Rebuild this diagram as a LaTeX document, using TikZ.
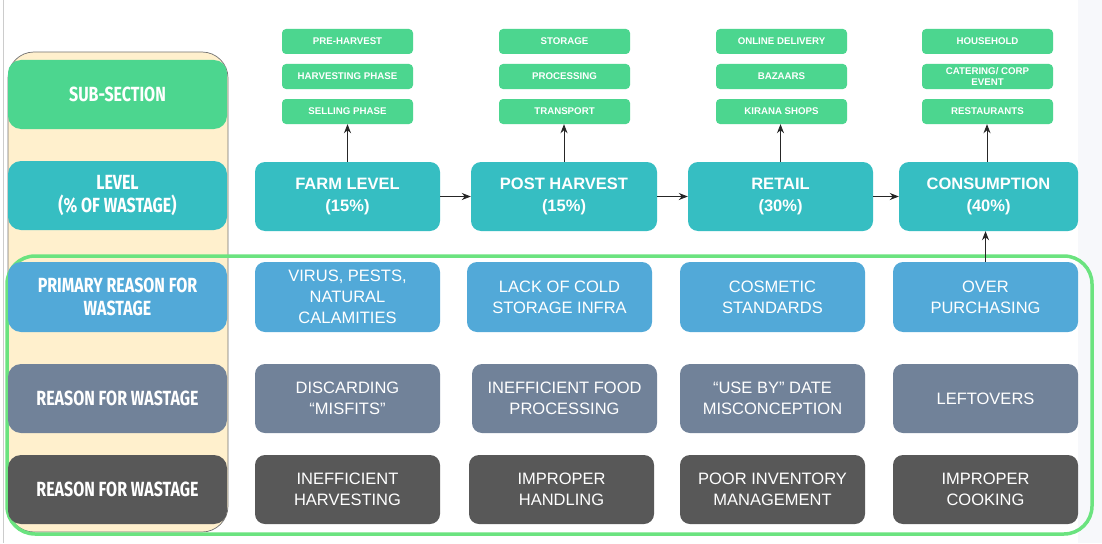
\documentclass[tikz,border=0pt]{standalone}
\usepackage{fontspec}
\setmainfont{Liberation Sans}
\newfontfamily\condfont[FakeStretch=0.78]{Fira Sans}
\usetikzlibrary{arrows.meta}
\definecolor{cgreen}{HTML}{4CD68F}
\definecolor{cteal}{HTML}{36BEC2}
\definecolor{cblue}{HTML}{52A9D8}
\definecolor{cslate}{HTML}{718299}
\definecolor{cdark}{HTML}{585858}
\definecolor{cbeige}{HTML}{FFF0CD}
\definecolor{cframe}{HTML}{6BE37F}
\definecolor{cstrip}{HTML}{F7F8FB}
\tikzset{
  box/.style={rectangle, rounded corners=10pt, text=white, align=center, inner sep=0pt},
  leftlbl/.style={box, rounded corners=13pt, minimum width=219pt, minimum height=69pt,
    font=\condfont\bfseries\fontsize{20.5}{22.5}\selectfont},
  lvlbox/.style={box, fill=cteal, minimum height=69pt, font=\bfseries\fontsize{16.5}{22}\selectfont},
  rowbox/.style={box, minimum width=185pt, minimum height=70pt, font=\fontsize{16.5}{21}\selectfont},
  pbox/.style={rowbox, fill=cblue},
  gbox/.style={rowbox, fill=cslate},
  dbox/.style={rowbox, fill=cdark},
  subbox/.style={box, fill=cgreen, rounded corners=4pt, minimum width=131pt, minimum height=25pt,
    font=\bfseries\fontsize{9.7}{11.5}\selectfont},
  arr/.style={draw=black!85, line width=0.9pt, -{Stealth[length=9pt,width=7pt]}}
}
\begin{document}
\begin{tikzpicture}[x=1pt,y=-1pt]
\useasboundingbox (0,0) rectangle (1102,543);
\fill[white] (0,0) rectangle (1102,543);
\fill[cstrip] (1078,0) rectangle (1102,543);
\draw[black!20, line width=0.8pt] (3,0) -- (3,543);
% beige column
\draw[fill=cbeige, draw=black!55, line width=0.7pt, rounded corners=26pt] (8,52) rectangle (228,532);
% green frame
\draw[cframe, line width=3.5pt, rounded corners=28pt] (7,256) rectangle (1092,534);
% left labels
\node[leftlbl, fill=cgreen] (lsub) at (117.5,94.5) {SUB-SECTION};
\node[leftlbl, fill=cteal] (llev) at (117.5,195.5) {LEVEL\\(\% OF WASTAGE)};
\node[leftlbl, fill=cblue, minimum height=70pt] (lpri) at (117.5,297) {PRIMARY REASON FOR\\WASTAGE};
\node[leftlbl, fill=cslate] (lrea) at (117.5,398.5) {REASON FOR WASTAGE};
\node[leftlbl, fill=cdark] (lrea2) at (117.5,489.5) {REASON FOR WASTAGE};
% level row
\node[lvlbox, minimum width=185pt] (farm) at (347.5,196.5) {FARM LEVEL\\(15\%)};
\node[lvlbox, minimum width=186pt] (post) at (564,196.5) {POST HARVEST\\(15\%)};
\node[lvlbox, minimum width=185pt] (retail) at (780.5,196.5) {RETAIL\\(30\%)};
\node[lvlbox, minimum width=179pt] (cons) at (988.5,196.5) {CONSUMPTION\\(40\%)};
% sub-section boxes
\node[subbox] (f1) at (347.5,41.5) {PRE-HARVEST};
\node[subbox] (f2) at (347.5,76.5) {HARVESTING PHASE};
\node[subbox] (f3) at (347.5,111.5) {SELLING PHASE};
\node[subbox] (p1) at (564.5,41.5) {STORAGE};
\node[subbox] (p2) at (564.5,76.5) {PROCESSING};
\node[subbox] (p3) at (564.5,111.5) {TRANSPORT};
\node[subbox] (r1) at (781.5,41.5) {ONLINE DELIVERY};
\node[subbox] (r2) at (781.5,76.5) {BAZAARS};
\node[subbox] (r3) at (781.5,111.5) {KIRANA SHOPS};
\node[subbox] (c1) at (987.5,41.5) {HOUSEHOLD};
\node[subbox] (c2) at (987.5,76.5) {CATERING/ CORP\\EVENT};
\node[subbox] (c3) at (987.5,111.5) {RESTAURANTS};
% primary row
\node[pbox] (fp) at (347.5,297) {VIRUS, PESTS,\\NATURAL\\CALAMITIES};
\node[pbox] (pp) at (559.5,297) {LACK OF COLD\\STORAGE INFRA};
\node[pbox] (rp) at (772.5,297) {COSMETIC\\STANDARDS};
\node[pbox] (cp) at (985.5,297) {OVER\\PURCHASING};
% reason row
\node[gbox, minimum height=69pt] (fg) at (347.5,398.5) {DISCARDING\\“MISFITS”};
\node[gbox, minimum height=69pt] (pg) at (564.5,398.5) {INEFFICIENT FOOD\\PROCESSING};
\node[gbox, minimum height=69pt] (rg) at (772.5,398.5) {“USE BY” DATE\\MISCONCEPTION};
\node[gbox, minimum height=69pt] (cg) at (985.5,398.5) {LEFTOVERS};
% dark row
\node[dbox, minimum height=69pt] (fd) at (347.5,489.5) {INEFFICIENT\\HARVESTING};
\node[dbox, minimum height=69pt] (pd) at (561.5,489.5) {IMPROPER\\HANDLING};
\node[dbox, minimum height=69pt] (rd) at (772.5,489.5) {POOR INVENTORY\\MANAGEMENT};
\node[dbox, minimum height=69pt] (cd) at (985.5,489.5) {IMPROPER\\COOKING};
% arrows
\draw[arr] (farm.north) -- (farm.north |- f3.south);
\draw[arr] (post.north) -- (post.north |- p3.south);
\draw[arr] (retail.north) -- (retail.north |- r3.south);
\draw[arr] ([xshift=-1.5pt]cons.north) -- ([xshift=-1.5pt]cons.north |- c3.south);
\draw[arr] (farm.east) -- (post.west);
\draw[arr] (post.east) -- (retail.west);
\draw[arr] (retail.east) -- (cons.west);
\draw[arr] (cp.north) -- (cp.north |- cons.south);
\end{tikzpicture}
\end{document}
